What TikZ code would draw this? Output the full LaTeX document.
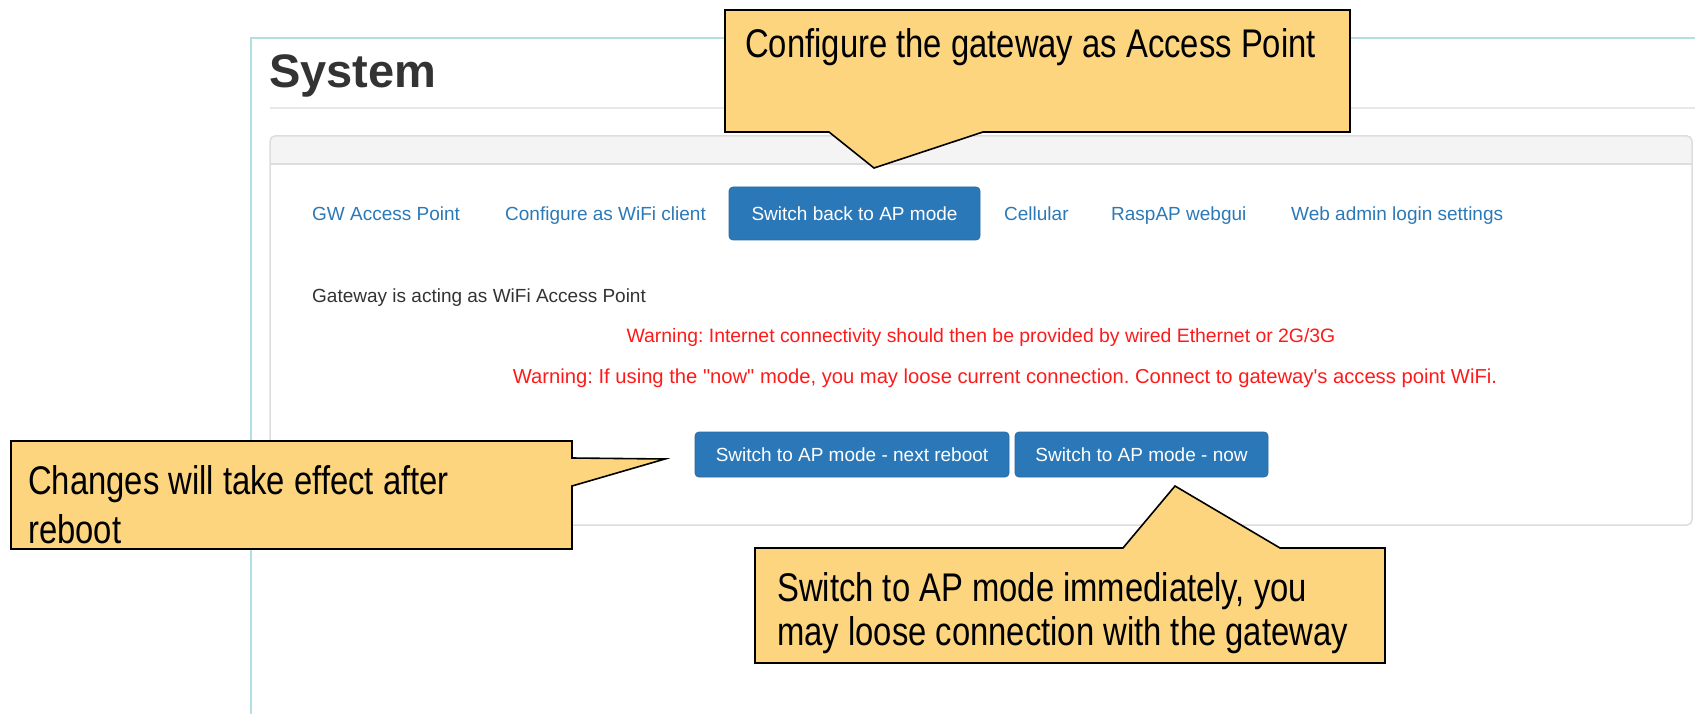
\documentclass[tikz,border=0pt]{standalone}
\usepackage{fontspec}
\setmainfont[Ligatures=TeXOff]{Liberation Sans}
\newfontfamily\narrowfont[FakeStretch=0.82]{Liberation Sans}

\definecolor{frameteal}{HTML}{B3DEE2}
\definecolor{rulegray}{HTML}{E8E8E8}
\definecolor{panelborder}{HTML}{DDDDDD}
\definecolor{panelhead}{HTML}{F4F4F4}
\definecolor{linkblue}{HTML}{2C79B8}
\definecolor{btnblue}{HTML}{2B78B9}
\definecolor{btnborder}{HTML}{2A6BA3}
\definecolor{warnred}{HTML}{FF1A1A}
\definecolor{notefill}{HTML}{FDD57E}
\definecolor{headtext}{HTML}{333333}

\tikzset{
  webtext/.style={inner sep=0pt, anchor=base west, font=\fontsize{19}{23}\selectfont},
  tablink/.style={webtext, text=linkblue},
  warning/.style={inner sep=0pt, anchor=base, text=warnred, font=\fontsize{19.4}{23}\selectfont},
  btnbox/.style={fill=btnblue, draw=btnborder, line width=0.8pt, rounded corners=4pt,
    text=white, font=\fontsize{19}{23}\selectfont, inner sep=0pt},
  note/.style={fill=notefill, draw=black, line width=1.6pt, line join=miter},
  notetext/.style={inner sep=0pt, anchor=base west, font=\narrowfont\fontsize{40}{47}\selectfont}
}

\begin{document}
\frenchspacing
\begin{tikzpicture}[x=1pt, y=-1pt]
  % page area
  \fill[white] (0,0) rectangle (1695,714);
  \useasboundingbox (0,0) rectangle (1695,714);

  % outer frame of the page content
  \draw[frameteal, line width=2pt] (251,714) -- (251,38) -- (1695,38);

  % heading
  \node[inner sep=0pt, anchor=base west, text=headtext,
        font=\bfseries\fontsize{47}{56}\selectfont] (title) at (269,88) {System};
  \draw[rulegray, line width=1.5pt] (270,108) -- (1695,108);

  % panel with its heading strip
  \begin{scope}
    \clip[rounded corners=5pt] (270,136) rectangle (1692,525);
    \fill[panelhead] (270,136) rectangle (1692,164);
  \end{scope}
  \draw[panelborder, line width=1.5pt] (270,164) -- (1692,164);
  \draw[panelborder, line width=1.5pt, rounded corners=5pt] (270,136) rectangle (1692,525);

  % navigation tabs
  \node[tablink] (tabgw) at (312,221) {GW Access Point};
  \node[tablink] (tabclient) at (505,221) {Configure as WiFi client};
  \node[btnbox, minimum width=251pt, minimum height=53pt] (tabap) at (854.5,213.5) {Switch back to AP mode};
  \node[tablink] (tabcell) at (1004,221) {Cellular};
  \node[tablink] (tabraspap) at (1111,221) {RaspAP webgui};
  \node[tablink] (tabadmin) at (1291,221) {Web admin login settings};

  % status and warnings
  \node[webtext, text=headtext] (status) at (312,302) {Gateway is acting as WiFi Access Point};
  \node[warning] (warnone) at (981,342) {Warning: Internet connectivity should then be provided by wired Ethernet or 2G/3G};
  \node[warning, font=\fontsize{20.2}{24}\selectfont] (warntwo) at (1005,383) {Warning: If using the "now" mode, you may loose current connection. Connect to gateway's access point WiFi.};

  % action buttons
  \node[btnbox, minimum width=314pt, minimum height=45pt] (btnreboot) at (852,454.5) {Switch to AP mode - next reboot};
  \node[btnbox, minimum width=253pt, minimum height=45pt] (btnnow) at (1141.5,454.5) {Switch to AP mode - now};

  % callout: access point
  \coordinate (tipap) at (874,168);
  \draw[note] (725,10) -- (1350,10) -- (1350,132) -- (983,132) -- (tipap) -- (829,132) -- (725,132) -- cycle;
  \node[notetext] (noteap) at (745,58) {Configure the gateway as Access Point};

  % callout: next reboot
  \coordinate (tipreboot) at (665,459);
  \draw[note] (11,441) -- (572,441) -- (572,458) -- (tipreboot) -- (572,486) -- (572,549) -- (11,549) -- cycle;
  \node[notetext] (notereboot) at (28,494) {Changes will take effect after};
  \node[notetext] (noterebootb) at (28,543) {reboot};

  % callout: immediate switch
  \coordinate (tipnow) at (1175,486);
  \draw[note] (755,548) -- (1123,548) -- (tipnow) -- (1280,548) -- (1385,548) -- (1385,663) -- (755,663) -- cycle;
  \node[notetext] (notenow) at (777,601) {Switch to AP mode immediately, you};
  \node[notetext] (notenowb) at (777,645) {may loose connection with the gateway};
\end{tikzpicture}
\end{document}
